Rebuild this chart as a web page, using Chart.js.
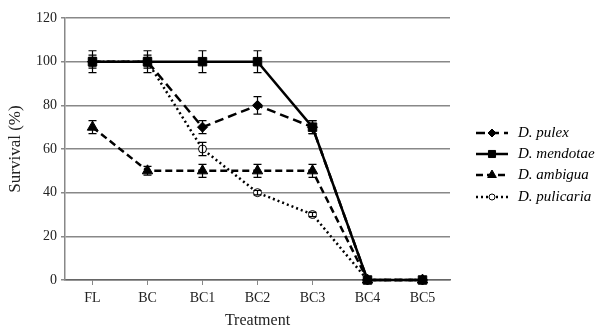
<!DOCTYPE html>
<html>
<head>
<meta charset="utf-8">
<script src="https://cdn.jsdelivr.net/npm/chart.js@4"></script>
<style>
  html, body { margin: 0; padding: 0; background: #fff; }
  #wrap { width: 611px; height: 329px; position: relative; }
</style>
</head>
<body>
<div id="wrap"><canvas id="survivalChart"></canvas></div>
<script>
const treatments = ['FL', 'BC', 'BC1', 'BC2', 'BC3', 'BC4', 'BC5'];
const yTicks = [0, 20, 40, 60, 80, 100, 120];

const pulex = [100, 100, 70, 80, 70, 0, 0];
const pulexErr = [3, 3, 3, 4, 3, 0, 0];
const mendotae = [100, 100, 100, 100, 70, 0, 0];
const mendotaeErr = [5, 5, 5, 5, 3, 0, 0];
const ambigua = [70, 50, 50, 50, 50, 0, 0];
const ambiguaErr = [3, 2, 3, 3, 3, 0, 0];
const pulicaria = [100, 100, 60, 40, 30, 0, 0];
const pulicariaErr = [2, 2, 3, 1, 1, 0, 0];

const seriesNames = ['D. pulex', 'D. mendotae', 'D. ambigua', 'D. pulicaria'];

const errorBars = {
    id: 'errorBars',
    afterDatasetsDraw(chart) {
        const ctx = chart.ctx;
        const y = chart.scales.y;
        ctx.save();
        ctx.strokeStyle = '#000';
        ctx.lineWidth = 1.2;
        ctx.setLineDash([]);
        chart.data.datasets.forEach((ds, i) => {
            const meta = chart.getDatasetMeta(i);
            meta.data.forEach((pt, j) => {
                const e = ds.errors[j];
                if (!e) return;
                const top = y.getPixelForValue(ds.data[j] + e);
                const bot = y.getPixelForValue(ds.data[j] - e);
                ctx.beginPath();
                ctx.moveTo(pt.x, top); ctx.lineTo(pt.x, bot);
                ctx.moveTo(pt.x - 4, top); ctx.lineTo(pt.x + 4, top);
                ctx.moveTo(pt.x - 4, bot); ctx.lineTo(pt.x + 4, bot);
                ctx.stroke();
            });
        });
        ctx.restore();
    }
};

const sideLegend = {
    id: 'sideLegend',
    afterDraw(chart) {
        const ctx = chart.ctx;
        const rows = [133, 154, 175, 197];
        ctx.save();
        chart.data.datasets.forEach((ds, i) => {
            const yy = rows[i];
            ctx.strokeStyle = '#000';
            ctx.lineWidth = 2.5;
            ctx.setLineDash(ds.borderDash || []);
            ctx.beginPath();
            ctx.moveTo(476, yy); ctx.lineTo(508, yy);
            ctx.stroke();
            ctx.setLineDash([]);
            ctx.fillStyle = ds.pointBackgroundColor;
            ctx.strokeStyle = '#000';
            ctx.lineWidth = 1;
            Chart.helpers.drawPoint(ctx, {
                pointStyle: ds.pointStyle,
                radius: ds.pointRadius - 1,
                borderWidth: 1
            }, 492, yy);
            ctx.fillStyle = '#000';
            ctx.font = 'italic 15px "Liberation Serif"';
            ctx.textBaseline = 'middle';
            ctx.fillText(ds.label, 518, yy);
        });
        ctx.restore();
    }
};

function series(label, data, errors, dash, style, radius, fill, order) {
    return {
        label: label,
        data: data,
        errors: errors,
        order: order,
        clip: false,
        borderColor: '#000',
        borderWidth: 2.5,
        borderDash: dash,
        pointStyle: style,
        pointRadius: radius,
        pointBackgroundColor: fill,
        pointBorderColor: '#000',
        pointBorderWidth: 1,
        tension: 0,
        fill: false
    };
}

const ctx = document.getElementById('survivalChart').getContext('2d');
const survivalChart = new Chart(ctx, {
    type: 'line',
    data: {
        labels: treatments,
        datasets: [
            series(seriesNames[0], pulex, pulexErr, [9, 5], 'rectRot', 5, '#000', 1),
            series(seriesNames[1], mendotae, mendotaeErr, [], 'rect', 6, '#000', 0),
            series(seriesNames[2], ambigua, ambiguaErr, [7, 4], 'triangle', 6, '#000', 2),
            series(seriesNames[3], pulicaria, pulicariaErr, [2, 3], 'circle', 4, '#fff', 3)
        ]
    },
    plugins: [errorBars, sideLegend],
    options: {
        responsive: true,
        maintainAspectRatio: false,
        animation: false,
        layout: { padding: { left: 0, right: 161, top: 18, bottom: 0 } },
        plugins: {
            legend: { display: false },
            tooltip: { enabled: false }
        },
        scales: {
            x: {
                offset: true,
                grid: {
                    drawOnChartArea: false,
                    drawTicks: true,
                    tickLength: 5,
                    color: '#888'
                },
                border: { color: '#666', width: 1.5 },
                ticks: {
                    color: '#222',
                    padding: 5,
                    font: { family: 'Liberation Serif', size: 14 }
                },
                title: {
                    display: true,
                    text: 'Treatment',
                    color: '#222',
                    padding: 0,
                    font: { family: 'Liberation Serif', size: 16, lineHeight: 1 }
                },
                afterFit(scale) { scale.height = 49; }
            },
            y: {
                min: 0,
                max: 120,
                afterBuildTicks(scale) {
                    scale.ticks = yTicks.map(v => ({ value: v }));
                },
                grid: {
                    color: '#888',
                    lineWidth: 1.5,
                    tickLength: 4
                },
                border: { color: '#888', width: 1.5 },
                ticks: {
                    color: '#222',
                    padding: 4,
                    font: { family: 'Liberation Serif', size: 14 }
                },
                title: {
                    display: true,
                    text: 'Survival (%)',
                    color: '#222',
                    padding: { top: 5, bottom: 0 },
                    font: { family: 'Liberation Serif', size: 17 }
                },
                afterFit(scale) { scale.width = 65; }
            }
        }
    }
});
</script>
</body>
</html>
